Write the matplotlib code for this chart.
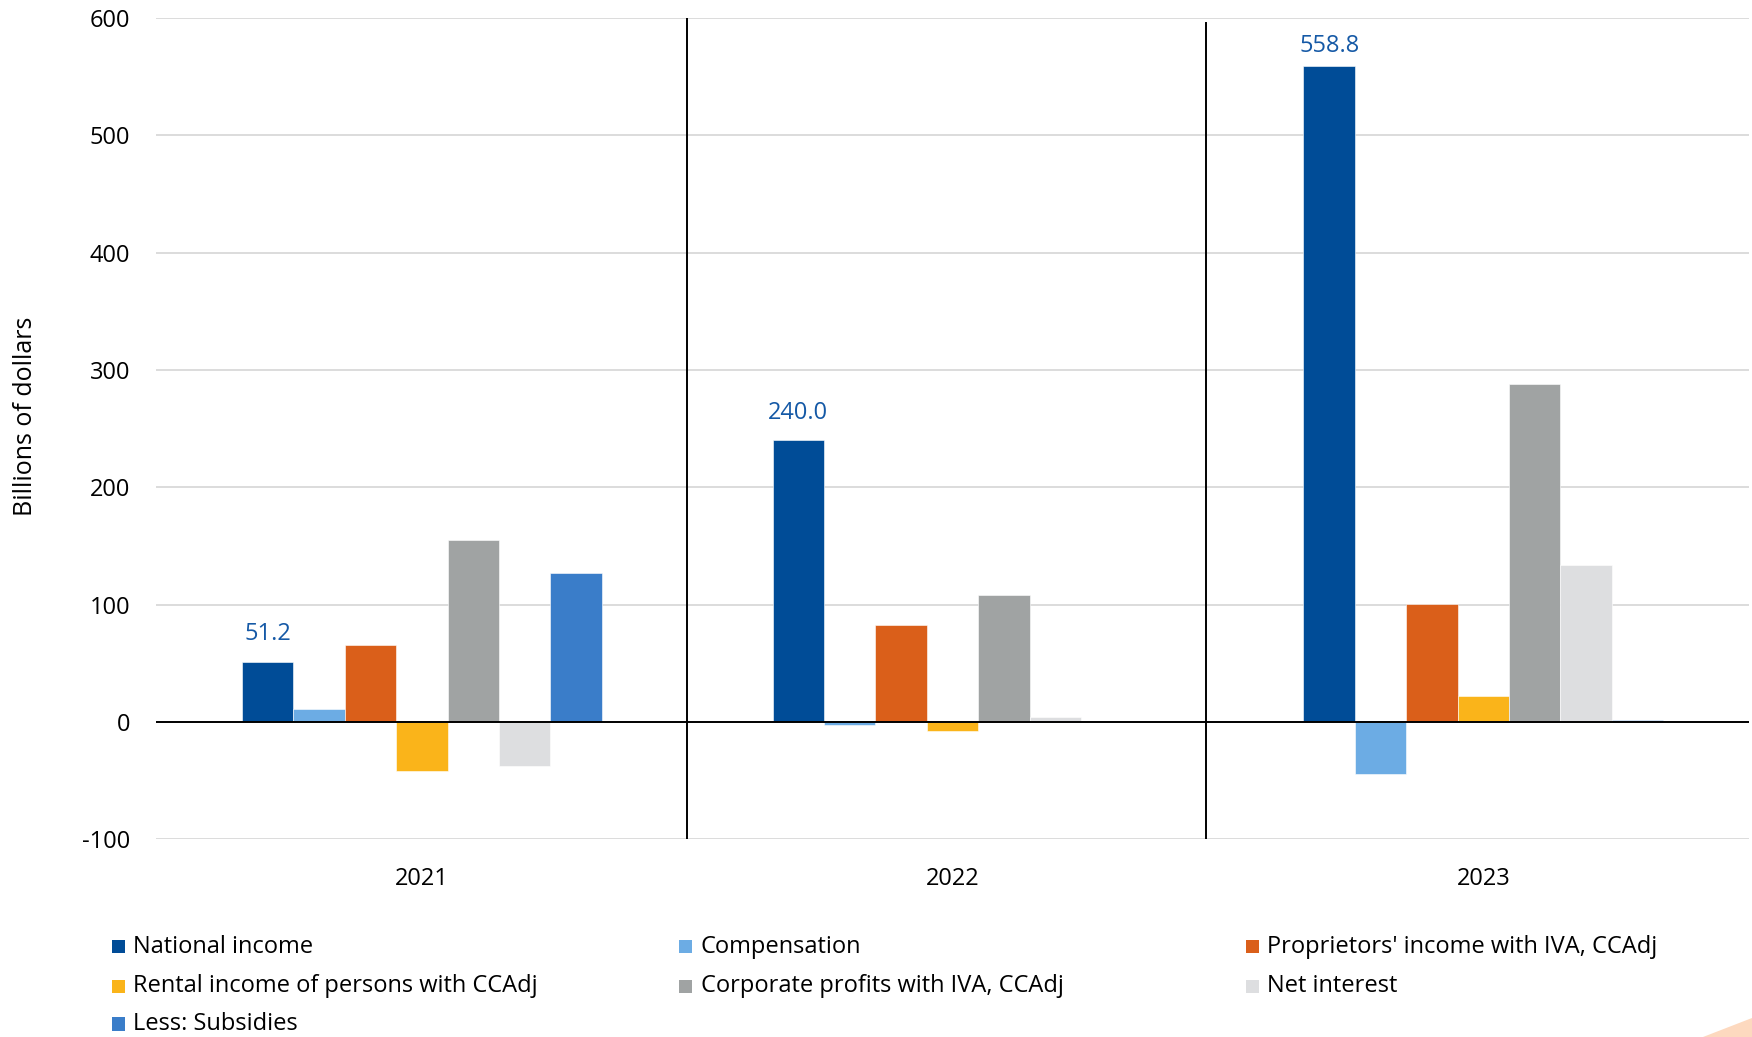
import matplotlib.pyplot as plt
import numpy as np
from matplotlib.patches import Rectangle, Polygon

plt.rcParams['font.family'] = ['Open Sans', 'DejaVu Sans']
plt.rcParams['axes.unicode_minus'] = False

years = ['2021', '2022', '2023']
series = ['National income', 'Compensation', "Proprietors' income with IVA, CCAdj",
          'Rental income of persons with CCAdj', 'Corporate profits with IVA, CCAdj',
          'Net interest', 'Less: Subsidies']
national_income = [51.2, 240.0, 558.8]
compensation = [11, -2.5, -44]
proprietors = [66, 83, 101]
rental = [-42, -8, 22]
corporate = [155, 108, 288]
net_interest = [-37.5, 4, 134]
subsidies = [127, 0, 1.5]

colors = ['#004C97', '#6CACE4', '#DA5F1A', '#FAB41A', '#A0A3A3', '#DDDEE0', '#3A7DC9']
values = [national_income, compensation, proprietors, rental, corporate, net_interest, subsidies]

fig = plt.figure(figsize=(17.52, 10.37), dpi=100)
ax = fig.add_axes([0.0893, 0.1905, 0.9088, 0.7921])

x = np.arange(len(years))
w = 0.0968
n = len(values)
label_off = [20, 20, 15]  # the top label is pushed down by the plot edge
for i, (vals, c) in enumerate(zip(values, colors)):
    pos = x + (i - (n - 1) / 2) * w
    ax.bar(pos, vals, width=w, color=c, edgecolor='white', linewidth=0.4, zorder=3)
    if i == 0:
        for px, v, off in zip(pos, vals, label_off):
            ax.annotate('{:.1f}'.format(v), (px, v), xytext=(0, off), textcoords='offset points',
                        ha='center', va='center', fontsize=17, color='#1559A6')

ax.set_xlim(-0.5, 2.5)
ax.set_ylim(-100, 600)
ax.set_yticks(range(-100, 601, 100))
ax.set_xticks(x)
ax.set_xticklabels(years)
ax.grid(axis='y', color='#D9D9D9', linewidth=1.3, zorder=0)
ax.axhline(0, color='black', linewidth=1.4, zorder=4)
ax.axvline(0.5, color='black', linewidth=1.4, zorder=4)
ax.axvline(1.478, ymax=0.994, color='black', linewidth=1.4, zorder=4)
for s in ax.spines.values():
    s.set_visible(False)
ax.tick_params(axis='both', length=0, labelsize=17)
ax.tick_params(axis='y', pad=19)
ax.tick_params(axis='x', pad=20)
ax.set_ylabel('Billions of dollars', fontsize=18)
ax.yaxis.set_label_coords(-0.0745, 0.515)

# legend, laid out row-wise
col_x = [0.0638, 0.3877, 0.7111]
row_y = [0.0872, 0.0488, 0.0125]
for k, (name, c) in enumerate(zip(series, colors)):
    cx = col_x[k % 3]
    cy = row_y[k // 3]
    fig.patches.append(Rectangle((cx, cy - 0.0065), 0.0074, 0.013, transform=fig.transFigure,
                                 facecolor=c, edgecolor='none'))
    fig.text(cx + 0.0122, cy, name, fontsize=17, va='center', ha='left')

fig.patches.append(Polygon([(0.972, 0.0), (1.0, 0.0), (1.0, 0.018)], closed=True,
                           transform=fig.transFigure, facecolor='#FDD9BF', edgecolor='none'))

fig.savefig('out.png', dpi=100)
